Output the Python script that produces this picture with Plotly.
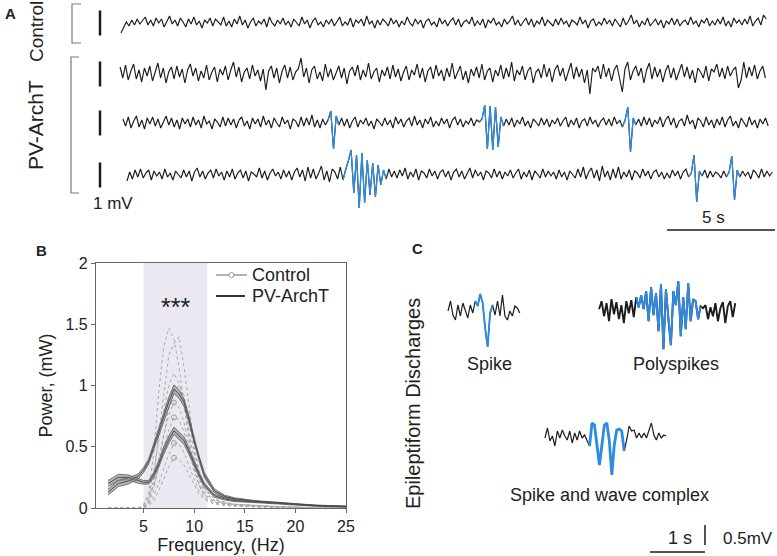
import plotly.graph_objects as go

W, H = 777, 556

# ---------------- panel A : raw traces ----------------
# samples in units of 40 uV (1 mV = 25 units), one sample every 0.125 s
A_UNIT_MV = 0.04
A_DT = 0.125

ctrl_trace = [
    -10, -4, 1, -3, 3, -2, 4, -1, 2, 6, -2, 3, -3, 5, 0, 4, -4, 2, 7, -1,
    3, -3, 5, 1, -4, 4, -1, 6, -2, 2, -5, 3, 0, 5, -3, 4, 1, -2, 6, -3,
    2, -4, 4, -1, 7, -2, 3, -5, 1, 5, -3, 2, -1, 4, -4, 6, 0, -3, 3, -1,
    5, -2, 2, -4, 4, 1, -3, 6, -1, 3, -5, 2, 5, -2, 1, -4, 3, -1, 4, -3,
    2, 6, -3, 1, -2, 5, -4, 3, 0, 4, -3, 7, -1, 2, -5, 3, -2, 4, 1, -3,
    5, -1, 3, -4, 2, -2, 6, 0, -3, 4, -1, 3, -5, 2, 4, -2, 1, -4, 5, -1,
    3, -3, 2, 5, -2, 4, -4, 1, 3, -1, 6, -3, 2, -2, 4, -5, 3, 0, 5, -2,
    1, -4, 4, -1, 2, 7, -2, 3, -3, 1, 5, -2, 4, -4, 2, -1, 6, -3, 3, 0,
    -3, 4, -2, 5, -1, 2, -4, 3, 1, -2, 6, -1, 3, -5, 2, 4, -3, 1, -2, 5,
    -1, 3, -3, 4, 0, -4, 5, -2, 2, 8, -1, 3, -4, 2, -2, 5, -3, 1, 4, -2,
    3, -5, 2, -1, 5, -2, 4, -3, 1, 3, -2, 6, -1, 2, -4, 3, 0, 5, -3, 2,
    -2, 4, -1, 6, -3, 2, -4, 5, 0, 3, -2, 4, -1, 7, -3, 2, 5, -2, 8, 4,
]

pv_trace1 = [
    7, -4, 9, -6, 3, 10, -5, 4, -8, 6, -2, 8, -7, 3, 11, -4, 6, -9, 2, 7,
    -5, 8, -3, 5, -9, 4, 10, -2, 6, -7, 3, -4, 9, -6, 2, 7, -8, 5, -1, 8,
    -6, 4, 12, -3, 7, -8, 2, 6, -5, 9, -2, 4, -7, 5, -16, 3, 8, -4, 6, -9,
    3, 9, -4, 7, -6, 2, 5, 16, -3, 6, -9, 4, 8, -5, 2, -7, 10, -3, 5, -6,
    2, 8, -4, 6, -10, 3, 7, -2, 9, -6, 4, -3, 11, -5, 2, 6, -8, 4, -2, 7,
    -5, 9, -3, 5, -7, 2, 8, -6, 4, -1, 10, -4, 6, -8, 3, 7, -5, 9, -2, 4,
    -7, 6, -3, 11, -5, 2, 8, -6, 3, -9, 5, -2, 7, -4, 10, -6, 3, 6, -8, 4,
    -2, 9, -5, 6, -3, 12, -7, 4, -1, 8, -6, 3, 7, -9, 2, 5, -4, 10, -3, 6,
    -8, 4, 9, -2, 6, -7, 3, 11, -5, 7, -3, 5, -9, 4, -20, 6, 2, 8, -5, 10,
    -3, 6, -7, 4, 9, -4, -18, 5, 12, -6, 3, 8, -2, 6, -9, 4, 11, -5, 7, -3,
    5, -8, 3, 9, -4, 6, -6, 2, 10, -3, 7, -5, 4, -9, 6, 2, -4, 8, -7, 5,
    2, 10, -3, 6, -5, 8, -2, 4, 7, -14, -6, 12, -4, 7, -2, 9, -5, 3, 8, -4,
]

pv_trace2 = [
    4, -3, 6, -5, 2, 7, -4, 3, -6, 5, -1, 6, -3, 4, -5, 2, 7, -2, 5, -4,
    3, -6, 5, -1, 4, -4, 6, -2, 3, -5, 7, -1, 2, -6, 4, 1, -4, 6, -3, 5,
    -2, 4, -5, 3, 6, -3, 2, -6, 5, -1, 4, -4, 7, -2, 3, -5, 5, 0, -4, 6,
    -1, 3, -6, 4, 2, -4, 6, -3, 5, -2, 8, -4, 3, -5, 4, -2, 3, 12, -26, 7,
    -2, 5, -3, 4, -5, 2, 6, -4, 3, -1, 5, -3, 2, -6, 4, 1, -3, 5, -2, 3,
    -5, 6, -1, 4, -4, 2, 5, -3, 7, -2, 3, -5, 4, -1, 6, -4, 2, -3, 5, -1,
    4, -5, 3, 6, -2, 4, -4, 2, -1, 5, -3, 3, 1, 4, 18, -26, 17, -27, 16, -24,
    6, -3, 4, -2, 5, -4, 3, -1, 6, -3, 2, -5, 4, 1, -3, 5, -2, 4, -4, 3,
    -1, 5, -3, 2, 6, -4, 3, -2, 5, -5, 2, 4, -3, 6, -1, 3, -4, 2, 5, -2,
    4, -3, 6, -1, 3, -4, 3, 16, -29, 5, -2, 4, -3, 6, -2, 5, -4, 3, -1, 6,
    -4, 3, 7, -2, 5, -5, 2, 4, -3, 8, -1, 3, -6, 5, 2, -4, 6, -2, 3, -5,
    4, -2, 6, -4, 3, 7, -3, 2, -5, 5, 1, -4, 6, -2, 3, -5, 4, -1, 5, -3,
]

pv_trace3 = [
    -6, 3, -4, 5, -2, 6, -3, 2, 5, -5, 4, -1, 3, -4, 6, -2, 2, -5, 4, 1,
    -3, 5, -2, 4, -6, 3, 7, -2, 4, -4, 2, 5, -3, 6, -1, 3, -5, 4, -2, 6,
    -4, 2, 5, -3, 4, -6, 3, 1, -2, 7, -3, 4, -5, 2, 6, -1, 3, -4, 5, -2,
    4, -5, 3, 7, -2, 5, -6, 8, -3, 6, -4, 2, 9, -5, 4, -7, 6, 3, -4, 8,
    -5, 6, 14, 25, -18, 20, -33, 22, -28, 15, -20, 12, -22, 10, -10, 5, -4, 6, -2, 4,
    -3, 5, -1, 7, -4, 3, -2, 6, -5, 4, 2, -3, 6, -1, 4, -4, 3, 5, -2, 4,
    -5, 3, 6, -2, 4, -4, 2, 7, -3, 5, -1, 3, -5, 4, 2, -3, 6, -2, 4, -4,
    3, -1, 5, -3, 2, 6, -4, 3, -2, 5, -5, 4, 1, -3, 6, -2, 4, -1, 3, -4,
    5, -2, 3, -5, 4, 1, -3, 6, -2, 8, -4, 3, 7, -3, 5, -6, 9, -2, 4, -5,
    6, -3, 8, -4, 3, -2, 5, -5, 4, 2, -3, 6, -1, 4, -4, 3, 5, -2, 3, -4,
    2, -3, 5, -1, 4, -4, 3, 6, -2, 2, 20, -27, 4, -1, 5, -3, 4, -2, 3, 1,
    -3, 4, -2, 3, 19, -25, 5, -2, 4, -1, 3, -4, 5, 2, -3, 6, -2, 4, -1, 3,
]

# epileptiform events (inclusive sample ranges), drawn in blue
pv_events2 = [(76, 80), (132, 141), (185, 190)]
pv_events3 = [(80, 96), (208, 213), (222, 227)]

# ---------------- panel B : power spectra ----------------
freq_hz = [1.5, 2.5, 3.5, 4.5, 5, 5.5, 6, 6.5, 7, 7.5, 8, 8.5, 9, 9.5,
           10, 10.5, 11, 12, 13, 14, 16, 18, 20, 22, 25]

mean_high = [0.13, 0.20, 0.22, 0.26, 0.31, 0.38, 0.50, 0.62, 0.75, 0.87, 0.97, 0.93, 0.86,
             0.72, 0.55, 0.40, 0.27, 0.14, 0.095, 0.075, 0.055, 0.045, 0.03, 0.02, 0.012]
sem_high = [0.025, 0.025, 0.025, 0.02, 0.02, 0.02, 0.025, 0.03, 0.03, 0.035, 0.035, 0.035, 0.03,
            0.03, 0.025, 0.02, 0.02, 0.015, 0.01, 0.008, 0.006, 0.005, 0.004, 0.004, 0.004]
mean_low = [0.20, 0.25, 0.25, 0.22, 0.21, 0.21, 0.27, 0.36, 0.47, 0.56, 0.63, 0.59, 0.55,
            0.46, 0.36, 0.27, 0.19, 0.10, 0.075, 0.06, 0.05, 0.04, 0.025, 0.018, 0.012]
sem_low = [0.025, 0.025, 0.02, 0.02, 0.015, 0.015, 0.02, 0.025, 0.03, 0.03, 0.03, 0.03, 0.03,
           0.025, 0.02, 0.02, 0.015, 0.012, 0.01, 0.008, 0.006, 0.005, 0.004, 0.004, 0.004]

animal_1 = [0, 0, 0, 0, 0.02, 0.12, 0.45, 0.95, 1.32, 1.47, 1.38, 1.15, 0.85, 0.55, 0.32,
            0.18, 0.10, 0.05, 0.03, 0.02, 0.01, 0.01, 0.005, 0, 0]
animal_2 = [0, 0, 0, 0, 0, 0.05, 0.25, 0.60, 0.95, 1.25, 1.34, 1.40, 1.15, 0.80, 0.50,
            0.30, 0.16, 0.07, 0.04, 0.03, 0.02, 0.01, 0.005, 0, 0]
animal_3 = [0, 0, 0, 0, 0.03, 0.10, 0.30, 0.55, 0.80, 1.00, 1.10, 1.02, 0.85, 0.60, 0.40,
            0.24, 0.14, 0.06, 0.04, 0.03, 0.02, 0.01, 0.01, 0, 0]
animal_4 = [0, 0, 0, 0, 0.01, 0.06, 0.20, 0.40, 0.60, 0.76, 0.86, 0.82, 0.70, 0.50, 0.33,
            0.20, 0.12, 0.06, 0.04, 0.03, 0.02, 0.01, 0.005, 0, 0]
animal_5 = [0, 0, 0, 0, 0.02, 0.08, 0.18, 0.33, 0.50, 0.64, 0.74, 0.72, 0.62, 0.46, 0.30,
            0.19, 0.11, 0.05, 0.03, 0.02, 0.015, 0.01, 0.005, 0, 0]
animal_6 = [0, 0, 0, 0, 0, 0.03, 0.10, 0.20, 0.32, 0.44, 0.53, 0.52, 0.45, 0.34, 0.23,
            0.14, 0.08, 0.04, 0.03, 0.02, 0.01, 0.01, 0, 0, 0]
animal_7 = [0, 0, 0, 0, 0, 0.02, 0.06, 0.14, 0.24, 0.34, 0.41, 0.40, 0.35, 0.27, 0.18,
            0.11, 0.07, 0.03, 0.02, 0.015, 0.01, 0.005, 0, 0, 0]
animal_8 = [0, 0, 0, 0, 0, 0.04, 0.15, 0.35, 0.60, 0.82, 0.95, 1.00, 0.92, 0.70, 0.45,
            0.28, 0.16, 0.07, 0.05, 0.03, 0.02, 0.01, 0.01, 0, 0]

theta_band = (5, 11.3)
legend_names = ["Control", "PV-ArchT"]

# ---------------- panel C : example discharges ----------------
# samples in units of 25 uV, one sample every 0.045 s
C_UNIT_MV = 0.025
C_DT = 0.045

spike_trace = [2, 12, -2, -7, 8, -3, 10, 2, -5, 8, 0, 12, 7, 19, 10, -15, -34, 0, 8, -2,
               12, -3, 18, -3, -7, 2, -3, 7, 5, 0]
poly_trace = [2, 10, -5, 8, -10, 12, -3, 9, -8, 6, -12, 10, -2, 11, -6,
              14, 4, 16, 2, 20, -10, 24, -4, 18, -20, 27, -38, 22, -8, -34, 20, 6, 30,
              -25, 14, -18, 28, -10, 12, 10, -8, 5,
              3, 6, -8, 4, -5, 8, -10, 3, 9, -12, 5, 10, -6, 8]
sw_trace = [0, 10, -3, 2, -8, 7, 0, 8, 2, -2, 7, -5, 5, -2, 7, 0, 3, -2,
            -8, 15, 13, -7, -27, -7, 13, 15, -3, -37, -7, 8, 9, 7, -13,
            -2, 12, 7, 8, 0, 5, 0, 5, 0, 8, 15, 3, -2, 5, 0, 3, 2]

spike_event = (11, 18)
poly_event = (15, 41)
sw_event = (18, 32)

BLACK = "#1c1c1c"
BLUE = "#2e8be2"
FONT = "Liberation Sans, Arial, sans-serif"

fig = go.Figure()


def eeg(vals, t0, y0, event_list, unit, dt, xa, ya, w, bw):
    t = [t0 + i * dt for i in range(len(vals))]
    y = [y0 + v * unit for v in vals]
    fig.add_trace(go.Scatter(x=t, y=y, mode="lines", xaxis=xa, yaxis=ya,
                             line=dict(color=BLACK, width=w), showlegend=False, hoverinfo="skip"))
    for a, b in event_list:
        fig.add_trace(go.Scatter(x=t[a:b + 1], y=y[a:b + 1], mode="lines", xaxis=xa, yaxis=ya,
                                 line=dict(color=BLUE, width=bw), showlegend=False, hoverinfo="skip"))


# panel A traces (axis x2/y2: seconds, mV)
eeg(ctrl_trace, 5.60, 8.68, [], A_UNIT_MV, A_DT, "x2", "y2", 1.15, 1.2)
eeg(pv_trace1, 5.56, 6.64, [], A_UNIT_MV, A_DT, "x2", "y2", 1.15, 1.2)
eeg(pv_trace2, 5.69, 4.68, pv_events2, A_UNIT_MV, A_DT, "x2", "y2", 1.15, 1.3)
eeg(pv_trace3, 5.88, 2.60, pv_events3, A_UNIT_MV, A_DT, "x2", "y2", 1.15, 1.3)

# panel C traces (axis x3/y3)
eeg(spike_trace, 0.873, 6.075, [spike_event], C_UNIT_MV, C_DT, "x3", "y3", 1.2, 1.9)
eeg(poly_trace, 3.62, 6.12, [poly_event], C_UNIT_MV, C_DT, "x3", "y3", 1.9, 1.9)
eeg(sw_trace, 2.636, 2.95, [sw_event], C_UNIT_MV, C_DT, "x3", "y3", 1.2, 2.8)

# panel B: individual spectra
for d in [animal_1, animal_2, animal_3, animal_4, animal_5, animal_6, animal_7, animal_8]:
    fig.add_trace(go.Scatter(x=freq_hz, y=d, mode="lines", showlegend=False, hoverinfo="skip",
                             line=dict(color="#a8a8a8", width=1, dash="dot")))
i8 = freq_hz.index(8)
fig.add_trace(go.Scatter(x=[8] * 4, y=[d[i8] for d in [animal_4, animal_5, animal_6, animal_7]],
                         mode="markers", showlegend=False, hoverinfo="skip",
                         marker=dict(symbol="circle-open", size=5, color="#9a9a9a", line=dict(width=1))))

# group means with SEM bands
for m, s in [(mean_low, sem_low), (mean_high, sem_high)]:
    lo = [a - b for a, b in zip(m, s)]
    hi = [a + b for a, b in zip(m, s)]
    fig.add_trace(go.Scatter(x=freq_hz, y=lo, mode="lines", showlegend=False, hoverinfo="skip",
                             line=dict(color="#5a5a5a", width=0.8)))
    fig.add_trace(go.Scatter(x=freq_hz, y=hi, mode="lines", fill="tonexty", showlegend=False,
                             hoverinfo="skip", fillcolor="rgba(150,150,150,0.7)",
                             line=dict(color="#5a5a5a", width=0.8)))
    fig.add_trace(go.Scatter(x=freq_hz, y=m, mode="lines", showlegend=False, hoverinfo="skip",
                             line=dict(color="#444444", width=0.9)))


def px(x, y):
    return x / W, 1 - y / H


shapes = []
# theta band shading
shapes.append(dict(type="rect", xref="x", yref="y", x0=theta_band[0], x1=theta_band[1], y0=0, y1=2,
                   fillcolor="#ebe8f1", line=dict(width=0), layer="below"))
# brackets (paper)
for x0, x1, y0, y1 in [(72, 81, 4, 43), (71, 79, 57, 193)]:
    a, b = px(x0, y0)
    c, d = px(x1, y1)
    shapes.append(dict(type="path", xref="paper", yref="paper",
                       path=f"M {c},{b} L {a},{b} L {a},{d} L {c},{d}",
                       line=dict(color="#7a7a7a", width=1.2)))
# 1 mV bars next to each trace
for yc in [8.68, 6.64, 4.68, 2.60]:
    shapes.append(dict(type="line", xref="x2", yref="y2", x0=4.63, x1=4.63, y0=yc - 0.5, y1=yc + 0.5,
                       line=dict(color=BLACK, width=2.5)))
# 5 s bar
shapes.append(dict(type="line", xref="x2", yref="y2", x0=30.88, x1=35.88, y0=0.4, y1=0.4,
                   line=dict(color=BLACK, width=1.5)))
# panel C scale bars: 1 s, 0.5 mV
shapes.append(dict(type="line", xref="x3", yref="y3", x0=4.545, x1=5.545, y0=0.1, y1=0.1,
                   line=dict(color=BLACK, width=1.5)))
shapes.append(dict(type="line", xref="x3", yref="y3", x0=5.545, x1=5.545, y0=0.275, y1=0.775,
                   line=dict(color=BLACK, width=1.5)))

# panel B legend keys
for (x0, x1, y), col, w in [((216, 247, 275), "#999999", 1.5), ((216, 245, 296), "#333333", 2)]:
    a, b = px(x0, y)
    c, _ = px(x1, y)
    shapes.append(dict(type="line", xref="paper", yref="paper", x0=a, x1=c, y0=b, y1=b,
                       line=dict(color=col, width=w)))
a, b = px(229, 272.5)
c, d = px(234, 277.5)
shapes.append(dict(type="circle", xref="paper", yref="paper", x0=a, x1=c, y0=d, y1=b,
                   fillcolor="white", line=dict(color="#999999", width=1)))

ann = []


def text(s, x, y, size, angle=0, bold=False, anchor="center"):
    ax, ay = px(x, y)
    ann.append(dict(text=f"<b>{s}</b>" if bold else s, x=ax, y=ay, xref="paper", yref="paper",
                    showarrow=False, textangle=angle, xanchor=anchor, yanchor="middle",
                    font=dict(size=size, color="#222222", family=FONT)))


text("A", 10, 14, 15, bold=True)
text("Control", 37, 32, 19, angle=-90)
text("PV-ArchT", 36, 125, 21, angle=-90)
text("1 mV", 113, 204, 17)
text("5 s", 713, 217, 17)
text("B", 41, 250, 15, bold=True)
text("C", 418, 248, 15, bold=True)
text("Epileptiform Discharges", 413, 404, 20, angle=-90)
text("Spike", 489, 364, 18)
text("Polyspikes", 676, 364, 18)
text("Spike and wave complex", 609, 495, 18)
text("1 s", 680, 538, 18)
text("0.5mV", 748, 538, 17)
text(legend_names[0], 250, 275, 18, anchor="left")
text(legend_names[1], 250, 296, 18, anchor="left")
ann.append(dict(text="***", x=8.2, y=1.64, xref="x", yref="y", showarrow=False,
                font=dict(size=25, color="#222222", family=FONT)))

fig.update_layout(
    width=W, height=H, margin=dict(l=0, r=0, t=0, b=0, autoexpand=False),
    paper_bgcolor="white", plot_bgcolor="white",
    font=dict(family=FONT, color="#222222"),
    shapes=shapes, annotations=ann,
    showlegend=False,
    xaxis=dict(domain=[96 / W, 346 / W], range=[0.3, 25], tickvals=[5, 10, 15, 20, 25],
               showline=True, mirror=True, linecolor="#666666", linewidth=1.2,
               ticks="outside", ticklen=4, tickcolor="#666666", showgrid=False, zeroline=False,
               tickfont=dict(size=16), automargin=False,
               title=dict(text="Frequency, (Hz)", font=dict(size=18), standoff=4),
               anchor="y"),
    yaxis=dict(domain=[1 - 508 / H, 1 - 263 / H], range=[0, 2], tickvals=[0, 0.5, 1, 1.5, 2],
               ticktext=["0", "0.5", "1", "1.5", "2"],
               showline=True, mirror=True, linecolor="#666666", linewidth=1.2,
               ticks="outside", ticklen=4, tickcolor="#666666", showgrid=False, zeroline=False,
               tickfont=dict(size=16), automargin=False,
               title=dict(text="Power, (mW)", font=dict(size=18), standoff=8),
               anchor="x"),
    xaxis2=dict(domain=[0, 1], range=[0, W / 21.6], visible=False, anchor="y2"),
    yaxis2=dict(domain=[1 - 240 / H, 1], range=[0, 240 / 25], visible=False, anchor="x2"),
    xaxis3=dict(domain=[400 / W, 1], range=[0, 377 / 55], visible=False, anchor="y3"),
    yaxis3=dict(domain=[0, 1 - 240 / H], range=[0, 316 / 40], visible=False, anchor="x3"),
)

# the page body has a default 8px margin; drop it so the figure fills the window
fig.write_html("out.html", config={"displayModeBar": False},
               post_script="document.body.style.margin='0';")
